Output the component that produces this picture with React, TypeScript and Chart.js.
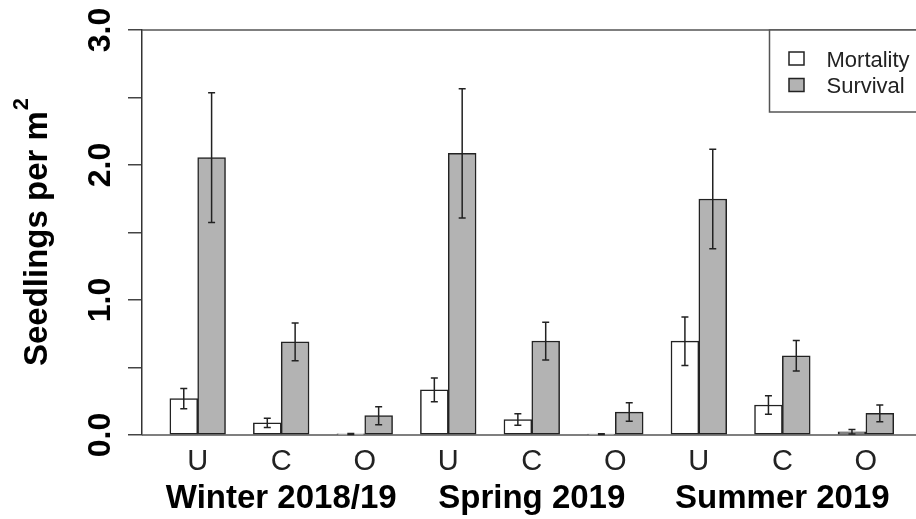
import React, { useEffect, useRef } from "react";
import { Chart, registerables } from "chart.js";

Chart.register(...registerables);

// Seasons and site types (each season has U, C, O)
const seasons = ["Winter 2018/19", "Spring 2019", "Summer 2019"];
const sites = ["U", "C", "O"];

// Seedlings per m² (mean) and standard errors, in season × site order
const mortality = [0.27, 0.09, 0.008, 0.335, 0.115, 0.006, 0.695, 0.222, 0.024];
const mortalitySE = [0.075, 0.034, 0.004, 0.088, 0.042, 0.003, 0.18, 0.068, 0.017];
const survival = [2.055, 0.69, 0.143, 2.086, 0.696, 0.17, 1.748, 0.587, 0.16];
const survivalSE = [0.48, 0.14, 0.067, 0.478, 0.14, 0.068, 0.368, 0.113, 0.062];

// Y-axis ticks; only whole numbers get a label
const yTicks = [0, 0.5, 1, 1.5, 2, 2.5, 3];
const yLabelled = [0, 1, 2, 3];

const FONT = "'Liberation Sans', Arial, Helvetica, sans-serif";

// bar-unit layout: each group = two bars + one unit gap before it
const groupCount = seasons.length * sites.length;
const mortX = Array.from({ length: groupCount }, (_, i) => 1.5 + 3 * i);
const survX = Array.from({ length: groupCount }, (_, i) => 2.5 + 3 * i);
const groupCenters = Array.from({ length: groupCount }, (_, i) => 2 + 3 * i);
const subLabels = Array.from({ length: groupCount }, (_, i) => sites[i % sites.length]);

const errors = [mortalitySE, survivalSE];

const decorPlugin = {
  id: "decor",
  beforeDatasetsDraw(chart: any) {
    const { ctx, chartArea } = chart;
    ctx.save();
    ctx.strokeStyle = "#555";
    ctx.lineWidth = 1.5;
    ctx.beginPath();
    ctx.moveTo(chartArea.left, chartArea.top);
    ctx.lineTo(chart.width + 2, chartArea.top);
    ctx.moveTo(chartArea.left, chartArea.bottom);
    ctx.lineTo(chart.width + 2, chartArea.bottom);
    ctx.stroke();
    ctx.restore();
  },
  afterDatasetsDraw(chart: any) {
    const { ctx } = chart;
    const yScale = chart.scales.y;
    ctx.save();
    ctx.strokeStyle = "#222";
    ctx.lineWidth = 1.5;
    chart.data.datasets.forEach((ds: any, di: number) => {
      const meta = chart.getDatasetMeta(di);
      meta.data.forEach((bar: any, i: number) => {
        const v = ds.data[i].y;
        const se = errors[di][i];
        const x = bar.x;
        const yTop = yScale.getPixelForValue(v + se);
        const yBot = yScale.getPixelForValue(Math.max(0, v - se));
        const cap = 3.5;
        ctx.beginPath();
        ctx.moveTo(x, yTop);
        ctx.lineTo(x, yBot);
        ctx.moveTo(x - cap, yTop);
        ctx.lineTo(x + cap, yTop);
        ctx.moveTo(x - cap, yBot);
        ctx.lineTo(x + cap, yBot);
        ctx.stroke();
      });
    });
    ctx.restore();
  },
  afterDraw(chart: any) {
    const { ctx, chartArea } = chart;
    const xScale = chart.scales.x;
    const yScale = chart.scales.y;
    ctx.save();
    ctx.fillStyle = "#000";

    // y tick labels, reading bottom-to-top
    ctx.font = `bold 32px ${FONT}`;
    ctx.textAlign = "center";
    ctx.textBaseline = "alphabetic";
    yLabelled.forEach((v) => {
      ctx.save();
      ctx.translate(110, yScale.getPixelForValue(v));
      ctx.rotate(-Math.PI / 2);
      ctx.fillText(v.toFixed(1), 0, 0);
      ctx.restore();
    });

    // y axis title with superscript
    const main = "Seedlings per m";
    const sup = "2";
    ctx.save();
    ctx.translate(47, (chartArea.top + chartArea.bottom) / 2);
    ctx.rotate(-Math.PI / 2);
    ctx.textAlign = "left";
    ctx.font = `bold 33px ${FONT}`;
    const w1 = ctx.measureText(main).width;
    ctx.font = `bold 22px ${FONT}`;
    const w2 = ctx.measureText(sup).width;
    const start = -(w1 + w2) / 2;
    ctx.font = `bold 33px ${FONT}`;
    ctx.fillText(main, start, 0);
    ctx.font = `bold 22px ${FONT}`;
    ctx.fillText(sup, start + w1 + 1, -19);
    ctx.restore();

    // season labels under the middle group of each season
    ctx.font = `bold 33px ${FONT}`;
    ctx.textAlign = "center";
    seasons.forEach((s, si) => {
      const cx = xScale.getPixelForValue(groupCenters[si * sites.length + 1]);
      ctx.fillText(s, cx, 507.5);
    });

    // legend box
    const lx = 769.5;
    const ly = chartArea.top;
    ctx.fillStyle = "#fff";
    ctx.fillRect(lx, ly, chart.width - lx + 5, 82);
    ctx.strokeStyle = "#555";
    ctx.lineWidth = 1.5;
    ctx.strokeRect(lx, ly, chart.width - lx + 5, 82);
    ctx.font = `22px ${FONT}`;
    ctx.textAlign = "left";
    chart.data.datasets.forEach((ds: any, di: number) => {
      const sy = 52 + di * 26.5;
      ctx.fillStyle = ds.backgroundColor;
      ctx.fillRect(789, sy, 15, 13);
      ctx.strokeStyle = "#222";
      ctx.lineWidth = 1.5;
      ctx.strokeRect(789, sy, 15, 13);
      ctx.fillStyle = "#222";
      ctx.fillText(ds.label, 826.5, 66.5 + di * 26.5);
    });
    ctx.restore();
  },
};

export default function App() {
  const canvasRef = useRef<HTMLCanvasElement | null>(null);

  useEffect(() => {
    document.body.style.margin = "0";
    const canvas = canvasRef.current;
    if (!canvas) return;

    const chart = new Chart(canvas, {
      type: "bar",
      data: {
        datasets: [
          {
            label: "Mortality",
            data: mortality.map((v, i) => ({ x: mortX[i], y: v })),
            backgroundColor: "#ffffff",
            borderColor: "#222",
            borderWidth: 1.5,
            borderSkipped: false,
          },
          {
            label: "Survival",
            data: survival.map((v, i) => ({ x: survX[i], y: v })),
            backgroundColor: "#b3b3b3",
            borderColor: "#222",
            borderWidth: 1.5,
            borderSkipped: false,
          },
        ],
      },
      options: {
        responsive: false,
        animation: false,
        devicePixelRatio: 1,
        layout: { padding: { top: 30, left: 0, right: 0, bottom: 0 } },
        datasets: {
          bar: { grouped: false, barPercentage: 1, categoryPercentage: 1 },
        },
        plugins: {
          legend: { display: false },
          tooltip: { enabled: false },
        },
        scales: {
          x: {
            type: "linear",
            min: 0,
            max: 27.8,
            offset: false,
            grid: { display: false, drawTicks: false, offset: false },
            border: { display: false },
            afterBuildTicks: (scale: any) => {
              scale.ticks = groupCenters.map((v) => ({ value: v }));
            },
            afterFit: (scale: any) => {
              scale.height = 84;
            },
            ticks: {
              autoSkip: false,
              maxRotation: 0,
              minRotation: 0,
              padding: 10,
              color: "#222",
              font: { family: FONT, size: 29 },
              callback: (_v: any, i: number) => subLabels[i],
            },
          },
          y: {
            min: 0,
            max: 3,
            afterBuildTicks: (scale: any) => {
              scale.ticks = yTicks.map((v) => ({ value: v }));
            },
            afterFit: (scale: any) => {
              scale.width = 142;
            },
            grid: {
              drawOnChartArea: false,
              drawTicks: true,
              tickLength: 14,
              color: "#444",
              lineWidth: 1.5,
            },
            border: { display: true, color: "#333", width: 1.5 },
            ticks: { display: false },
          },
        },
      },
      plugins: [decorPlugin],
    });

    return () => chart.destroy();
  }, []);

  return (
    <div style={{ width: 916, height: 519, background: "#fff" }}>
      <canvas ref={canvasRef} width={916} height={519} style={{ display: "block" }} />
    </div>
  );
}
